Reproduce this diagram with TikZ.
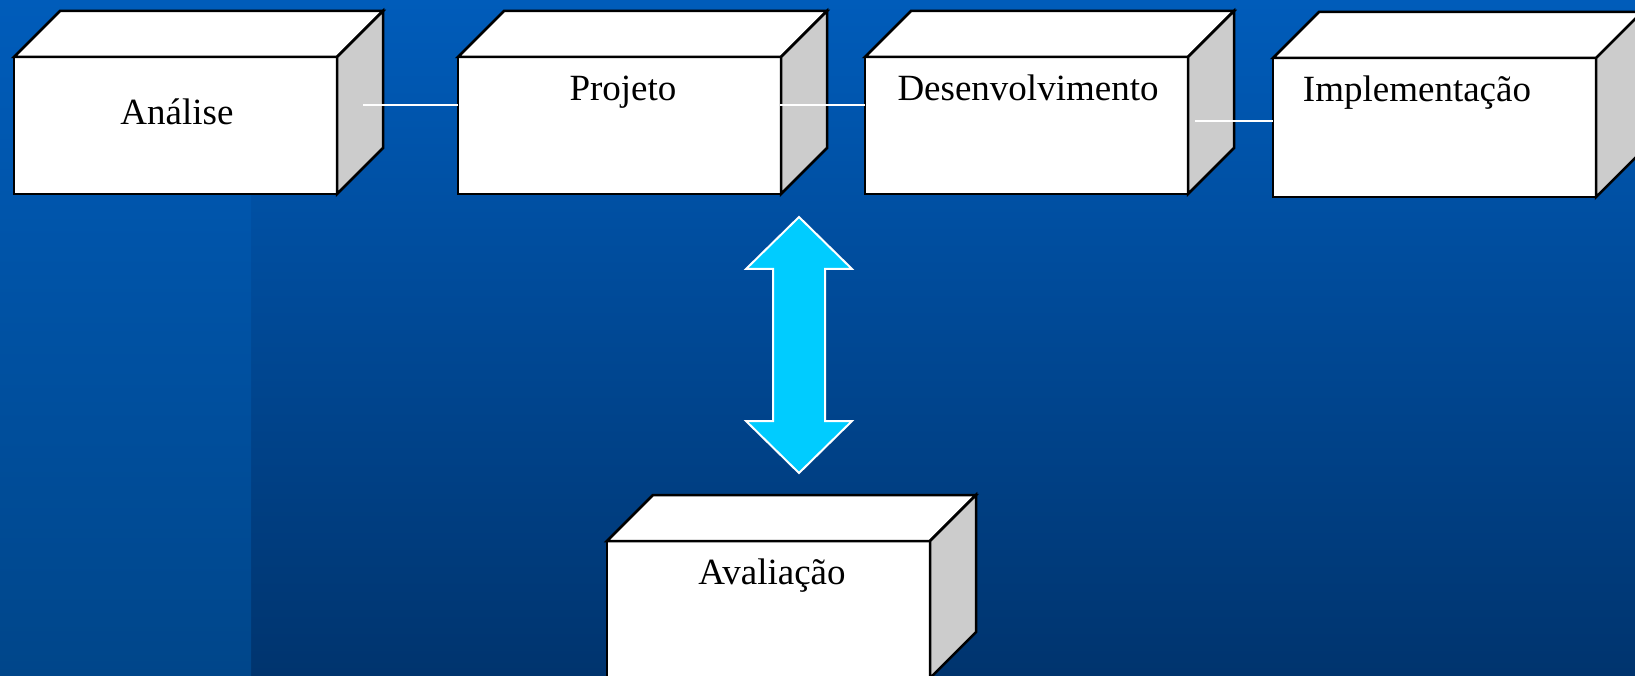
\documentclass[tikz,border=0pt]{standalone}
\usepackage{fontspec}
\setmainfont{Liberation Serif}
\usetikzlibrary{calc}
\definecolor{bgtop}{RGB}{0,92,186}
\definecolor{bgbot}{RGB}{0,52,110}
\definecolor{bgleftbot}{RGB}{0,70,138}
\definecolor{sidegray}{RGB}{204,204,204}
\definecolor{arrowcyan}{RGB}{0,204,255}
\tikzset{
  front/.style={draw=black, fill=white, line width=2.5pt, line join=miter, minimum width=323pt, minimum height=137pt, inner sep=0pt, outer sep=0pt},
  topface/.style={draw=black, fill=white, line width=2.5pt, line join=miter},
  sideface/.style={draw=black, fill=sidegray, line width=2.5pt, line join=miter},
  lbl/.style={anchor=base, inner sep=0pt, font=\fontsize{37}{40}\selectfont},
  link/.style={draw=white, line width=2pt},
  blockarrow/.style={draw=white, fill=arrowcyan, line width=2pt, line join=miter}
}
\newcommand{\cubeface}[1]{%
  \path[topface] (#1.north west) -- ++(46,-46) -- ++(323,0) -- (#1.north east) -- cycle;
  \path[sideface] (#1.north east) -- ++(46,-46) -- ++(0,137) -- (#1.south east) -- cycle;
}
\begin{document}
\begin{tikzpicture}[x=1pt,y=-1pt]
\useasboundingbox (0,0) rectangle (1635,676);
% background
\shade[top color=bgtop, bottom color=bgbot] (251,0) rectangle (1635,676);
\shade[top color=bgtop, bottom color=bgleftbot] (0,0) rectangle (251,676);

% boxes
\node[front] (b1) at (175.5,125.5) {};
\cubeface{b1}
\node[front] (b2) at (619.5,125.5) {};
\cubeface{b2}
\node[front] (b3) at (1026.5,125.5) {};
\cubeface{b3}
\node[front, minimum height=139pt] (b4) at (1434.5,127.5) {};
\path[topface] (b4.north west) -- ++(46,-46) -- ++(323,0) -- (b4.north east) -- cycle;
\path[sideface] (b4.north east) -- ++(46,-46) -- ++(0,139) -- (b4.south east) -- cycle;
\node[front] (b5) at (768.5,609.5) {};
\cubeface{b5}

% labels
\node[lbl] (t1) at (177,125) {Análise};
\node[lbl] (t2) at (623,101) {Projeto};
\node[lbl] (t3) at (1028,101) {Desenvolvimento};
\node[lbl] (t4) at (1417,102) {Implementação};
\node[lbl] (t5) at (772,584) {Avaliação};

% connectors
\coordinate (c1) at (363,105);
\coordinate (c2) at (780,105);
\coordinate (c3) at (1195,121);
\draw[link] (c1) -- (c1 -| b2.west);
\draw[link] (c2) -- (c2 -| b3.west);
\draw[link] (c3) -- (c3 -| b4.west);

% double block arrow
\coordinate (a) at (799,345);
\path[blockarrow] ($(a)+(0,-128)$) -- ++(53,52) -- ++(-27,0) -- ++(0,152) -- ++(27,0)
  -- ++(-53,52) -- ++(-53,-52) -- ++(27,0) -- ++(0,-152) -- ++(-27,0) -- cycle;
\end{tikzpicture}
\end{document}
